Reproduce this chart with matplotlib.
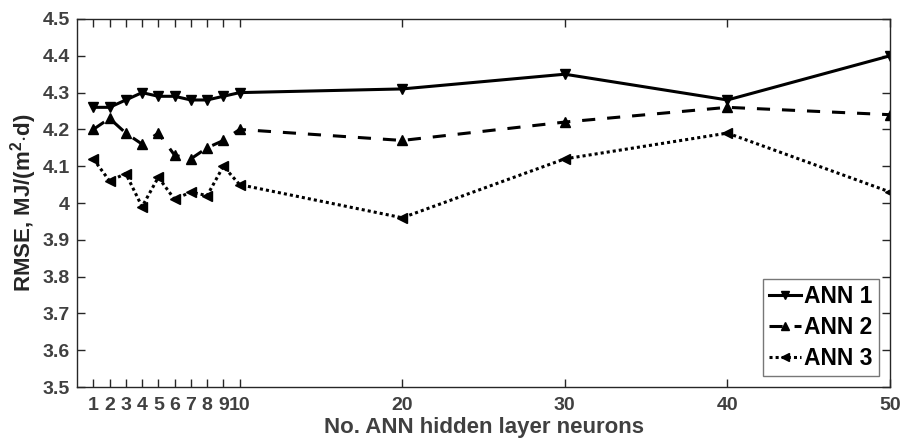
"""
RMSE against number of hidden layer neurons for three ANN models
"""

from matplotlib import pyplot as plt

# values
NEURONS = [1, 2, 3, 4, 5, 6, 7, 8, 9, 10, 20, 30, 40, 50]
ANN1 = [4.26, 4.26, 4.28, 4.30, 4.29, 4.29, 4.28, 4.28, 4.29, 4.30, 4.31, 4.35, 4.28, 4.40]
ANN2 = [4.20, 4.23, 4.19, 4.16, 4.19, 4.13, 4.12, 4.15, 4.17, 4.20, 4.17, 4.22, 4.26, 4.24]
ANN3 = [4.12, 4.06, 4.08, 3.99, 4.07, 4.01, 4.03, 4.02, 4.10, 4.05, 3.96, 4.12, 4.19, 4.03]
LABELS = ["ANN 1", "ANN 2", "ANN 3"]
X_TICKS = [1, 2, 3, 4, 5, 6, 7, 8, 9, 10, 20, 30, 40, 50]
Y_TICKS = [3.5, 3.6, 3.7, 3.8, 3.9, 4.0, 4.1, 4.2, 4.3, 4.4, 4.5]

plt.rcParams['font.family'] = ['Liberation Sans', 'DejaVu Sans']
plt.rcParams['font.weight'] = 'bold'
plt.rcParams['mathtext.fontset'] = 'custom'
plt.rcParams['mathtext.rm'] = 'Liberation Sans:bold'
plt.rcParams['mathtext.bf'] = 'Liberation Sans:bold'

GREY = '#404040'
DARK = '#262626'

fig = plt.figure(figsize=(9.02, 4.48), dpi=100)
ax = fig.add_axes([0.0854, 0.136, 0.9013, 0.8216])

ax.plot(NEURONS, ANN1, color='k', linestyle='-', linewidth=2.2,
        marker='v', markersize=7.5, label=LABELS[0])
ax.plot(NEURONS, ANN2, color='k', linestyle=(0, (4.3, 3.9)), linewidth=2.2,
        marker='^', markersize=7.5, label=LABELS[1])
ax.plot(NEURONS, ANN3, color='k', linestyle=(0, (1, 1)), linewidth=2.2,
        marker='<', markersize=7.5, label=LABELS[2])

ax.set(xlim=(0, 50), ylim=(3.5, 4.5))
ax.set_xticks(X_TICKS)
ax.set_xticklabels([str(t) for t in X_TICKS])
ax.set_yticks(Y_TICKS)
ax.set_yticklabels(['%g' % t for t in Y_TICKS])
ax.tick_params(direction='in', top=True, right=True, length=6,
               labelsize=14, labelcolor=GREY, width=1, color=DARK)
ax.tick_params(axis='x', pad=7)
ax.tick_params(axis='y', pad=5)
for sp in ax.spines.values():
    sp.set_linewidth(1)
    sp.set_color(DARK)

ax.set_xlabel("No. ANN hidden layer neurons", fontsize=16,
              fontweight='bold', color=GREY, labelpad=2)
ax.set_ylabel(r"RMSE, MJ/(m$^{2}$$\cdot$d)", fontsize=16,
              fontweight='bold', color=DARK, labelpad=3)

leg = ax.legend(loc='lower right', fontsize=16.5, frameon=True, fancybox=False,
                edgecolor='#555555', handlelength=1.4, handletextpad=0.15,
                borderpad=0.25, labelspacing=0.35, borderaxespad=0.5,
                markerscale=0.8)
leg.get_frame().set_linewidth(1)
for txt in leg.get_texts():
    txt.set_fontweight('bold')

fig.savefig("out.png", dpi=100)
